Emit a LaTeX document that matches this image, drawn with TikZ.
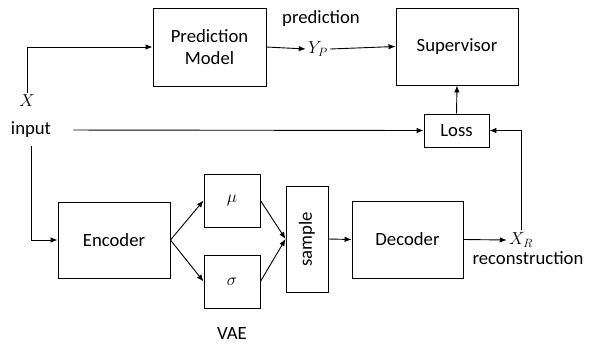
\documentclass[tikz,border=0pt]{standalone}
\usepackage{fontspec}
\setmainfont{Carlito}
\usetikzlibrary{arrows.meta}
\begin{document}
\begin{tikzpicture}[x=1pt,y=-1pt,line width=0.9pt,>={Latex[length=7pt,width=5.5pt]},
  blk/.style={draw,inner sep=0pt,align=center},
  lbl/.style={inner sep=2pt},
  every node/.style={font=\fontsize{18.7}{22}\selectfont}]
\useasboundingbox (0,0) rectangle (592,343);
% blocks
\node[blk,minimum width=113pt,minimum height=78pt] (pm) at (209.5,47) {Prediction\\Model};
\node[blk,minimum width=122pt,minimum height=77pt] (sup) at (457,46.5) {Supervisor};
\node[blk,minimum width=65pt,minimum height=33pt] (loss) at (456.5,130.5) {Loss};
\node[blk,minimum width=112pt,minimum height=76pt] (enc) at (114,240) {Encoder};
\node[blk,minimum width=56pt,minimum height=53pt] (mu) at (232,200.5) {$\mu$};
\node[blk,minimum width=56pt,minimum height=53pt] (sig) at (232,281.5) {$\sigma$};
\node[blk,minimum width=42pt,minimum height=106pt] (smp) at (307,239) {\rotatebox{90}{sample}};
\node[blk,minimum width=111pt,minimum height=77pt] (dec) at (407.5,239.5) {Decoder};
% labels
\node[lbl] (x) at (27,101) {$X$};
\node[lbl] (in) at (31,130) {input};
\node[lbl] (yp) at (318,49) {$Y_P$};
\node[lbl] (pred) at (321,19) {prediction};
\node[lbl] (xr) at (521,240) {$X_R$};
\node[lbl] (rec) at (528,258) {reconstruction};
\node[lbl] (vae) at (232,333) {VAE};
% connectors
\draw[->] (x.north) |- (pm.west);
\draw[->] (pm.east) -- (yp.west);
\draw[->] (yp.east) -- (sup.west);
\draw[->,shorten <=20pt] (in.east) -- (loss.west);
\draw[->,shorten <=6pt] (in.south) |- (enc.west);
\draw[->] (loss.north) -- (sup.south);
\draw[->] (enc.east) -- (mu.west);
\draw[->] (enc.east) -- (sig.west);
\draw[->] (mu.east) -- (smp.west);
\draw[->] (sig.east) -- (smp.west);
\draw[->] (smp.east) -- (dec.west);
\draw[->] (dec.east) -- (xr.west);
\draw[->] (xr.north) |- (loss.east);
\end{tikzpicture}
\end{document}
